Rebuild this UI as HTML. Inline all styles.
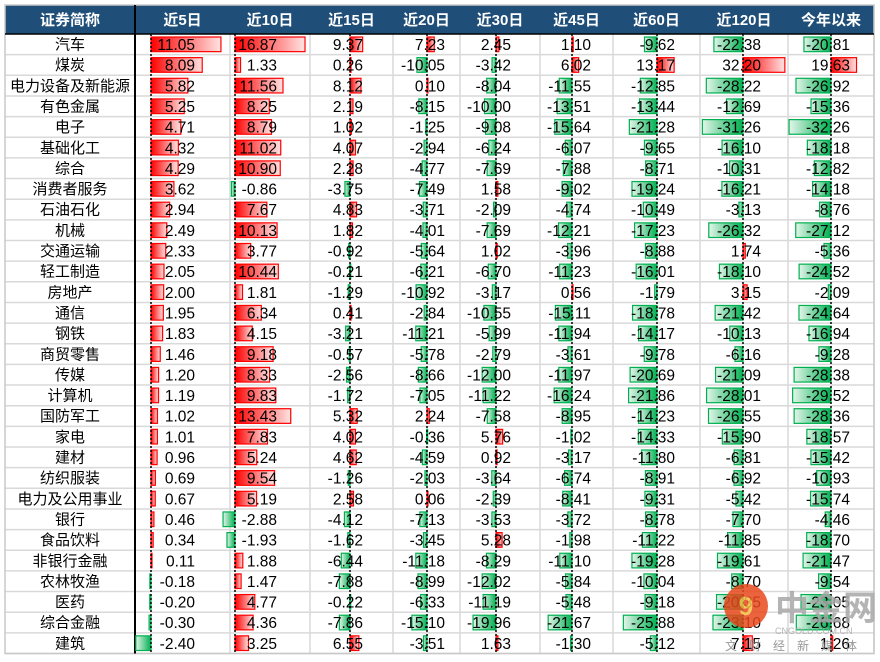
<!DOCTYPE html>
<html><head><meta charset="utf-8">
<style>
body{margin:0;background:#fff;}
svg{display:block;font-family:"Liberation Sans","Noto Sans CJK SC",sans-serif;}
</style></head>
<body>
<svg id="chart" width="880" height="662" viewBox="0 0 880 662" xmlns="http://www.w3.org/2000/svg">
<defs>
<linearGradient id="gRed" x1="0" x2="1" y1="0" y2="0"><stop offset="0" stop-color="#ff0000"/><stop offset="1" stop-color="#ffe3e3"/></linearGradient>
<linearGradient id="gGreen" x1="0" x2="1" y1="0" y2="0"><stop offset="0" stop-color="#e3f5ea"/><stop offset="1" stop-color="#00b050"/></linearGradient>
</defs>
<g id="grid"></g>
<g id="bars"></g>
<g id="texts"></g>
<g id="wm" opacity="0.85">
<circle cx="746" cy="606" r="22" fill="#e8491d"/>
<text x="746" y="615" font-size="26" font-weight="bold" fill="#f7c046" text-anchor="middle">9</text>
<text x="775" y="620" font-size="34" font-weight="bold" fill="#a8a8a8">中金网</text>
<text x="775" y="634" font-size="9" fill="#aaaaaa">CNGOLD.COM.CN</text>
<text x="725" y="650" font-size="12" fill="#888" letter-spacing="12">文财经新媒体</text>
</g>
</svg>
<script>
const headers = ["证券简称","近5日","近10日","近15日","近20日","近30日","近45日","近60日","近120日","今年以来"];
const sectors = ["汽车","煤炭","电力设备及新能源","有色金属","电子","基础化工","综合","消费者服务","石油石化","机械","交通运输","轻工制造","房地产","通信","钢铁","商贸零售","传媒","计算机","国防军工","家电","建材","纺织服装","电力及公用事业","银行","食品饮料","非银行金融","农林牧渔","医药","综合金融","建筑"];
const ret5d = [11.05,8.09,5.82,5.25,4.71,4.32,4.29,3.62,2.94,2.49,2.33,2.05,2.00,1.95,1.83,1.46,1.20,1.19,1.02,1.01,0.96,0.69,0.67,0.46,0.34,0.11,-0.18,-0.20,-0.30,-2.40];
const ret10d = [16.87,1.33,11.56,8.25,8.79,11.02,10.90,-0.86,7.67,10.13,3.77,10.44,1.81,6.34,4.15,9.18,8.33,9.83,13.43,7.83,5.24,9.54,5.19,-2.88,-1.93,1.88,1.47,4.77,4.36,3.25];
const ret15d = [9.37,0.26,8.12,2.19,1.02,4.07,2.28,-3.75,4.83,1.82,-0.92,-0.21,-1.29,0.41,-3.21,-0.57,-2.56,-1.72,5.32,4.02,4.62,-1.26,2.58,-4.12,-1.62,-6.44,-7.88,-0.22,-7.86,6.55];
const ret20d = [7.23,-10.05,0.10,-8.15,-1.25,-2.94,-4.77,-7.49,-3.71,-4.01,-5.64,-6.21,-10.92,-2.84,-11.21,-5.78,-8.66,-7.05,2.24,-0.36,-4.59,-2.03,0.06,-7.13,-3.45,-11.18,-8.99,-6.33,-15.10,-3.51];
const ret30d = [2.45,-3.42,-8.04,-10.00,-9.08,-6.24,-7.69,1.58,-2.09,-7.69,1.02,-6.70,-3.17,-10.55,-5.99,-2.79,-12.00,-11.22,-7.58,5.76,0.92,-3.64,-2.39,-3.53,5.28,-8.29,-12.02,-11.19,-19.96,1.63];
const ret45d = [1.10,6.02,-11.55,-13.51,-15.64,-6.07,-7.88,-9.02,-4.74,-12.21,-3.96,-11.23,0.56,-15.11,-11.94,-3.61,-11.97,-16.24,-8.95,-1.02,-3.17,-6.74,-8.41,-3.72,-1.98,-11.10,-5.84,-5.48,-21.67,-1.30];
const ret60d = [-9.62,13.17,-12.85,-13.44,-21.28,-9.65,-8.71,-19.24,-10.49,-17.23,-8.88,-16.01,-1.79,-18.78,-14.17,-9.78,-20.69,-21.86,-14.23,-14.33,-11.80,-8.91,-9.31,-8.78,-11.22,-19.28,-10.04,-9.18,-25.88,-5.12];
const ret120d = [-22.38,32.20,-28.22,-12.69,-31.26,-16.10,-10.31,-16.21,-3.13,-26.32,1.74,-18.10,3.15,-21.42,-10.13,-6.16,-21.09,-28.01,-26.55,-15.90,-6.81,-6.92,-5.42,-7.70,-11.85,-19.61,-8.70,-20.35,-23.10,7.15];
const retYtd = [-20.81,19.63,-26.92,-15.36,-32.26,-18.18,-12.82,-14.18,-8.76,-27.12,-5.36,-24.52,-2.09,-24.64,-16.94,-9.28,-28.38,-29.52,-28.36,-18.57,-15.42,-10.93,-15.74,-4.46,-18.70,-21.47,-9.54,-23.05,-26.68,1.26];
const series = [ret5d,ret10d,ret15d,ret20d,ret30d,ret45d,ret60d,ret120d,retYtd];
const colKeys = ["5d","10d","15d","20d","30d","45d","60d","120d","ytd"];

// layout
const colEdges = [5,135,230,310,393,460,540,613,700,788,874];
const axisX = [151,235,350,427,496,572,657,743,831];
const pxPerUnit = [6.33,4.15,1.35,1.0,1.15,1.1,1.3,1.3,1.3];
const textRight = [195,277,363,445,511,591,675,761,850];
const headTop = 5, headBot = 34, rowH = 20.65;
function xScale(c, v){ return axisX[c] + v*pxPerUnit[c]; }
function rowY(i){ return headBot + i*rowH; }

const NS = "http://www.w3.org/2000/svg";
function mk(tag, attrs, parent){ const e=document.createElementNS(NS,tag); for(const k in attrs) e.setAttribute(k,attrs[k]); parent.appendChild(e); return e; }
const grid=document.getElementById('grid'), bars=document.getElementById('bars'), texts=document.getElementById('texts');
const bottom = rowY(sectors.length);

// header
let hb = mk('rect',{x:colEdges[0],y:headTop,width:colEdges[10]-colEdges[0],height:headBot-headTop,fill:'#1f4e79'},grid);


headers.forEach((h,c)=>{
  const t=mk('text',{x:(colEdges[c]+colEdges[c+1])/2,y:25,'font-size':15,'font-weight':'bold',fill:'#fff','text-anchor':'middle'},grid);
  t.textContent=h;
  
  
});
// row lines
for(let i=1;i<=sectors.length;i++){
  const l=mk('line',{x1:colEdges[0],x2:colEdges[10],y1:rowY(i),y2:rowY(i),stroke:'#d9d9d9','stroke-width':1.5},grid);
  
  
}
for(let c=2;c<colEdges.length;c++){
  const l=mk('line',{x1:colEdges[c],x2:colEdges[c],y1:headBot,y2:bottom,stroke:'#d9d9d9','stroke-width':1.5},grid);
  
  
}
const ob=mk('rect',{x:colEdges[0],y:headTop,width:colEdges[10]-colEdges[0],height:bottom-headTop,fill:'none',stroke:'#c8c8c8','stroke-width':1.5},grid);


const sep=mk('line',{x1:135,x2:135,y1:headTop,y2:bottom,stroke:'#000','stroke-width':2},grid);


const hl=mk('line',{x1:colEdges[0],x2:colEdges[10],y1:headBot,y2:headBot,stroke:'#000','stroke-width':1.5},grid);



// rows
sectors.forEach((s,i)=>{
  const y=rowY(i);
  const t=mk('text',{x:70,y:y+15.5,'font-size':15,fill:'#000','text-anchor':'middle'},texts);
  t.textContent=s;
  
  
  series.forEach((arr,c)=>{
    const v=arr[i];
    const x0=axisX[c], x1=xScale(c,v);
    const pos=v>=0;
    const r=mk('rect',{x:Math.min(x0,x1),y:y+3,width:Math.max(Math.abs(x1-x0),1),height:rowH-6,fill:pos?'url(#gRed)':'url(#gGreen)',stroke:pos?'#ff0000':'#00b050','stroke-width':1.2},bars);
    
    
    const vt=mk('text',{x:textRight[c],y:y+16,'font-size':15.5,fill:'#000','text-anchor':'end'},texts);
    vt.textContent=v.toFixed(2);
    
    
  });
});
// axes
axisX.forEach((ax,c)=>{
  const l=mk('line',{x1:ax,x2:ax,y1:headBot,y2:bottom,stroke:'#000','stroke-width':1.5,'stroke-dasharray':'2,2'},bars);
  
  
});
</script>
</body></html>
